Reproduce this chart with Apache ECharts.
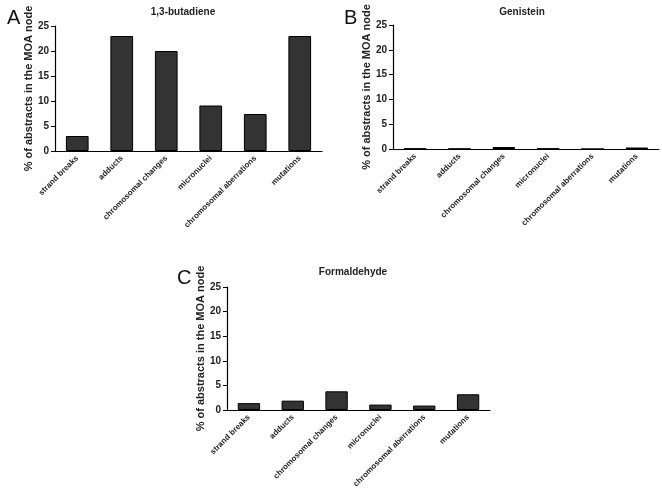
<!DOCTYPE html>
<html><head><meta charset="utf-8">
<script src="https://cdn.jsdelivr.net/npm/echarts@6/dist/echarts.min.js"></script>
<style>html,body{margin:0;padding:0;background:#fff}#c{width:662px;height:499px}</style>
</head><body><div id="c"></div>
<script>
const categories = ['strand breaks','adducts','chromosomal changes','micronuclei','chromosomal aberrations','mutations'];
const butadiene = [3, 23, 20, 9.1, 7.4, 23];
const genistein = [0.1, 0.05, 0.4, 0.1, 0, 0.3];
const formaldehyde = [1.4, 1.9, 3.8, 1.1, 0.9, 3.2];
const panelTitles = ['1,3-butadiene', 'Genistein', 'Formaldehyde'];
const panelLetters = ['A', 'B', 'C'];
const yName = '% of abstracts in the MOA node';

const font = 'Liberation Sans, Arial, sans-serif';
const grids = [
  {left: 55, right: 340, top: 26, bottom: 348},
  {left: 393, right: 3, top: 25, bottom: 350},
  {left: 227, right: 172, top: 287, bottom: 89}
];
const titlePos = [{x:178,y:2},{x:517,y:2},{x:348,y:262}];
const letterPos = [{x:2,y:3},{x:339,y:3},{x:172,y:263}];
const datasets = [butadiene, genistein, formaldehyde];

const xAxes = [], yAxes = [], series = [], titles = [];
grids.forEach((g, i) => {
  xAxes.push({
    type: 'category', gridIndex: i, data: categories,
    axisLine: {lineStyle: {color: '#000', width: 1.2}},
    axisTick: {alignWithLabel: true, length: 4, lineStyle: {color: '#000'}},
    axisLabel: {rotate: 45, fontSize: 8, fontWeight: 'bold', color: '#222', fontFamily: font, margin: 6, interval: 0}
  });
  yAxes.push({
    type: 'value', gridIndex: i, min: 0, max: 25, interval: 5,
    name: yName, nameLocation: 'middle', nameGap: 21,
    nameTextStyle: {fontSize: 11, fontWeight: 'bold', color: '#222', fontFamily: font},
    axisLine: {show: true, lineStyle: {color: '#000', width: 1.2}},
    axisTick: {show: true, length: 4, lineStyle: {color: '#000'}},
    splitLine: {show: false},
    axisLabel: {fontSize: 10, fontWeight: 'bold', color: '#222', fontFamily: font, margin: 6}
  });
  series.push({
    type: 'bar', xAxisIndex: i, yAxisIndex: i, data: datasets[i], barWidth: '51%',
    itemStyle: {color: '#333333', borderColor: '#000', borderWidth: 1}
  });
  titles.push({text: panelTitles[i], left: titlePos[i].x, top: titlePos[i].y, textAlign: 'center',
    textStyle: {fontSize: 10, fontWeight: 'bold', color: '#222', fontFamily: font}});
  titles.push({text: panelLetters[i], left: letterPos[i].x, top: letterPos[i].y,
    textStyle: {fontSize: 20, fontWeight: 'normal', color: '#111', fontFamily: font}});
});

const chart = echarts.init(document.getElementById('c'), null, {renderer: 'canvas'});
chart.setOption({
  animation: false,
  backgroundColor: '#fff',
  title: titles,
  grid: grids,
  xAxis: xAxes,
  yAxis: yAxes,
  series: series
});
</script></body></html>
